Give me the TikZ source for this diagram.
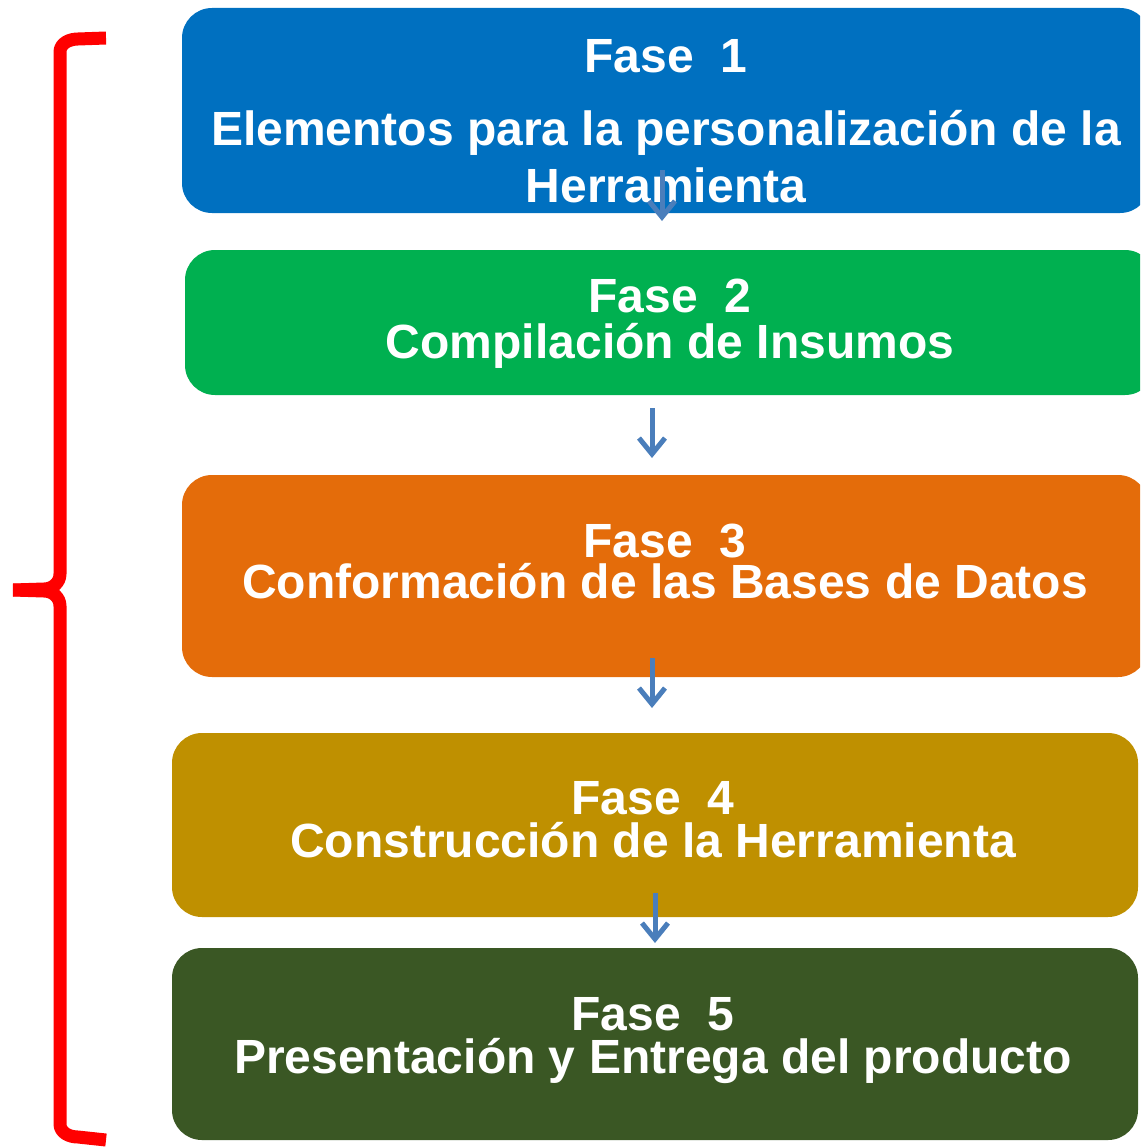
\documentclass[tikz,border=0pt]{standalone}
\usepackage{fontspec}
\setmainfont{Liberation Sans}
\usetikzlibrary{arrows.meta}
\definecolor{cblue}{HTML}{0070C0}
\definecolor{cgreen}{HTML}{00B050}
\definecolor{corange}{HTML}{E46C0A}
\definecolor{cgold}{HTML}{BF9000}
\definecolor{cdark}{HTML}{3A5724}
\definecolor{carrow}{HTML}{4A7EBB}
\definecolor{cred}{HTML}{FF0000}
\tikzset{
  phasebox/.style={rectangle, rounded corners=30pt, inner sep=0pt, draw=none},
  ptext/.style={anchor=base, inner sep=0pt, text=white, font=\fontsize{48}{50}\selectfont\bfseries},
  arr/.style={draw=carrow, line width=5pt, -{Straight Barb[length=16pt,width=26pt]}},
  bracestyle/.style={draw=cred, line width=13pt, line join=round}
}
\begin{document}
\begin{tikzpicture}[x=1pt,y=-1pt]
\useasboundingbox (0,0) rectangle (1140,1148);
\clip (0,0) rectangle (1140,1148);
% boxes
\node[phasebox, fill=cblue, minimum width=968pt, minimum height=205pt] (f1) at (666,110.5) {};
\node[phasebox, fill=cgreen, minimum width=970pt, minimum height=145pt] (f2) at (670,322.5) {};
\node[phasebox, fill=corange, minimum width=966pt, minimum height=202pt] (f3) at (665,576) {};
\node[phasebox, fill=cgold, minimum width=966pt, minimum height=184pt] (f4) at (655,825) {};
\node[phasebox, fill=cdark, minimum width=966pt, minimum height=192pt] (f5) at (655,1044) {};
% texts
\node[ptext] (t1a) at (666,72) {Fase\ \ 1};
\node[ptext] (t1b) at (666,145) {Elementos para la personalización de la};
\node[ptext] (t1c) at (666,202) {Herramienta};
\node[ptext] (t2a) at (670,312) {Fase\ \ 2};
\node[ptext] (t2b) at (670,358) {Compilación de Insumos};
\node[ptext] (t3a) at (665,557) {Fase\ \ 3};
\node[ptext] (t3b) at (665,598) {Conformación de las Bases de Datos};
\node[ptext] (t4a) at (653,814) {Fase\ \ 4};
\node[ptext] (t4b) at (653,857) {Construcción de la Herramienta};
\node[ptext] (t5a) at (653,1030) {Fase\ \ 5};
\node[ptext] (t5b) at (653,1073) {Presentación y Entrega del producto};
% arrow coordinates
\coordinate (a1s) at (662,170);
\coordinate (a1e) at (662,221);
\coordinate (a2s) at (652,408);
\coordinate (a2e) at (652,458);
\coordinate (a3s) at (652,658);
\coordinate (a3e) at (652,708);
\coordinate (a4s) at (655,893);
\coordinate (a4e) at (655,943);
\draw[arr] (a1s) -- (a1e);
\draw[arr] (a2s) -- (a2e);
\draw[arr] (a3s) -- (a3e);
\draw[arr] (a4s) -- (a4e);
% brace
\coordinate (bt) at (106,38);
\coordinate (btip) at (13,590);
\coordinate (bb) at (106,1140);
\draw[bracestyle] (bt) -- (78,39) to[out=180,in=90] (60,52) -- (60,574)
  to[out=-90,in=0] (44,589) -- (btip);
\draw[bracestyle] (btip) -- (44,591) to[out=0,in=90] (60,606) -- (60,1124)
  to[out=-90,in=180] (78,1137) -- (bb);
\end{tikzpicture}
\end{document}
